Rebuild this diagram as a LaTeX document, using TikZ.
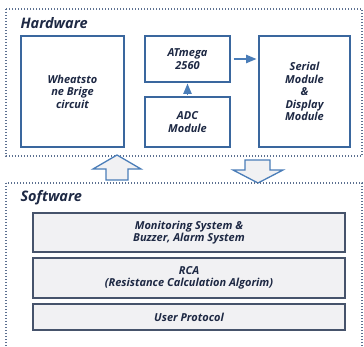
\documentclass[tikz,border=0pt]{standalone}
\usepackage{fontspec}
\setmainfont{Open Sans}
\usepackage{tikz}
\usetikzlibrary{positioning,shapes,arrows}

\definecolor{hwblue}{HTML}{3A679E}
\definecolor{swgrey}{HTML}{46536B}
\definecolor{txtnavy}{HTML}{1E2944}
\definecolor{dotgrey}{HTML}{5C7090}
\definecolor{boxfill}{HTML}{F1F1F3}
\definecolor{arrblue}{HTML}{4A7DB8}

\tikzset{
  dotbox/.style={draw=dotgrey, line width=1.3pt, dash pattern=on 1.4pt off 1.6pt},
  hwbox/.style={draw=hwblue, line width=1.3pt, fill=white, text=txtnavy, align=center,
    font=\fontsize{11}{12.5}\selectfont\bfseries\itshape},
  swbox/.style={draw=swgrey, line width=1.2pt, fill=boxfill, text=txtnavy, align=center,
    font=\fontsize{11}{12.5}\selectfont\bfseries\itshape},
  titletxt/.style={text=txtnavy, anchor=west, font=\fontsize{14.5}{15}\selectfont\bfseries\itshape},
  hollow/.style={draw=arrblue, line width=1.3pt, fill=boxfill, line join=miter}
}

\begin{document}
\begin{tikzpicture}[x=1pt, y=-1pt]
  \useasboundingbox (0,0) rectangle (364,346);
  % hardware part
  \draw [dotbox] (6,9) rectangle (362,156);
  \node[titletxt] (hwtitle) at (17,23) {Hardware};
  \node[hwbox, minimum width=103pt, minimum height=111pt] (wheat) at (72.5,91.5) {Wheatsto\\ne Brige\\circuit};
  \node[hwbox, minimum width=85pt, minimum height=46pt] (atmega) at (187.5,59) {ATmega\\2560};
  \node[hwbox, minimum width=85pt, minimum height=50pt] (adc) at (187.5,122) {ADC\\Module};
  \node[hwbox, minimum width=91pt, minimum height=111pt] (serial) at (304.5,91.5) {Serial\\Module\\\&\\Display\\Module};
  \draw [-triangle 45, arrblue, line width=1.4pt, shorten >=2pt, shorten <=3pt] (atmega.east) -- (serial.west |- atmega.east);
  \draw [-triangle 45, arrblue, line width=1.4pt, shorten >=1pt, shorten <=1pt] (adc.north) -- (atmega.south);
  % hollow arrows between the parts
  \draw [hollow] (117,155) -- (141,169) -- (128,169) -- (128,180) -- (106,180) -- (106,169) -- (93,169) -- cycle;
  \draw [hollow] (258,183) -- (283,170) -- (270,170) -- (270,160) -- (245,160) -- (245,170) -- (233,170) -- cycle;
  % software part
  \draw [dotbox] (6,183) rectangle (362,352);
  \node[titletxt] (swtitle) at (17,198) {Software};
  \node[swbox, minimum width=312pt, minimum height=39pt] (monitor) at (189,232.5) {Monitoring System \&\\Buzzer, Alarm System};
  \node[swbox, minimum width=312pt, minimum height=40pt] (rca) at (189,278) {RCA\\(Resistance Calculation Algorim)};
  \node[swbox, minimum width=312pt, minimum height=26pt] (user) at (189,317) {User Protocol};
\end{tikzpicture}
\end{document}
